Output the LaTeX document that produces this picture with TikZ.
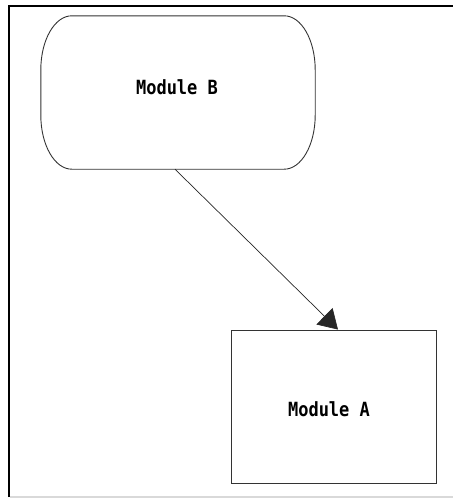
\documentclass[tikz,border=0pt]{standalone}
\usepackage{fontspec}
\newfontfamily\modfont{DejaVu Sans Mono}
\usetikzlibrary{arrows.meta,calc}
\begin{document}
\begin{tikzpicture}[x=1pt,y=-1pt,
  modlabel/.style={font=\modfont\bfseries\fontsize{17}{18}\selectfont, inner sep=0pt, yscale=1.15},
  outline/.style={draw=black!80, line width=0.9pt},
  link/.style={draw=black!85, line width=0.7pt, -{Triangle[length=19pt,width=23pt]}}]
\useasboundingbox (0,0) rectangle (453,498);
% frame
\draw[line width=2pt] (9,497) -- (9,6) -- (453,6);
\draw[black!15, line width=1.2pt] (10,497) -- (453,497);
% Module B (rounded terminal shape)
\node[minimum width=274pt, minimum height=153pt, inner sep=0pt] (B) at (178,92.5) {};
\draw[outline] ($(B.north west)+(31,0)$) -- ($(B.north east)+(-31,0)$)
  arc[start angle=90, end angle=0, x radius=31pt, y radius=54pt]
  -- ($(B.south east)+(0,-54)$)
  arc[start angle=0, end angle=-90, x radius=31pt, y radius=54pt]
  -- ($(B.south west)+(31,0)$)
  arc[start angle=270, end angle=180, x radius=31pt, y radius=54pt]
  -- ($(B.north west)+(0,54)$)
  arc[start angle=180, end angle=90, x radius=31pt, y radius=54pt] -- cycle;
\node[modlabel] (Btext) at (177,87) {Module B};
% Module A
\node[outline, minimum width=205pt, minimum height=153pt, inner sep=0pt] (A) at (333.5,406.5) {};
\node[modlabel] (Atext) at (329,409) {Module A};
% connector
\draw[link] ([xshift=-3pt]B.south) -- ([xshift=4.5pt]A.north);
\end{tikzpicture}
\end{document}
